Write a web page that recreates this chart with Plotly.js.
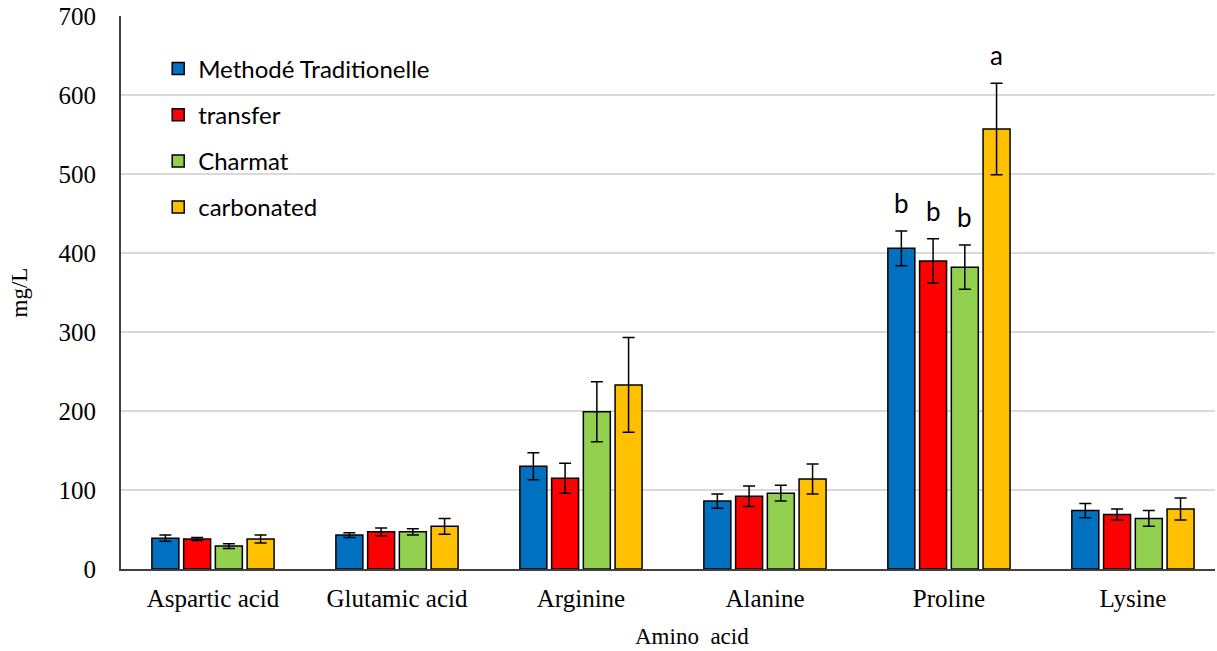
<!DOCTYPE html>
<html>
<head>
<meta charset="utf-8">
<script src="https://cdn.plot.ly/plotly-3.0.1.min.js"></script>
<style>html,body{margin:0;padding:0;background:#fff;}#chart{width:1217px;height:651px;}</style>
</head>
<body>
<div id="chart"></div>
<script>
const categories = ['Aspartic acid', 'Glutamic acid', 'Arginine', 'Alanine', 'Proline', 'Lysine'];
const seriesNames = ['Methodé Traditionelle', 'transfer', 'Charmat', 'carbonated'];
const seriesColors = ['#0070C0', '#FF0000', '#92D050', '#FFC000'];

const methodeTraditionelle = [39, 43, 130, 86, 406, 74];
const transfer = [38, 47, 115, 92, 390, 69];
const charmat = [29, 47, 199, 96, 382, 64];
const carbonated = [38, 54, 233, 114, 557, 76];

const errMethode = [4, 3, 17, 9, 22, 9];
const errTransfer = [2, 5, 19, 13, 28, 7];
const errCharmat = [3, 4, 38, 10, 28, 10];
const errCarbonated = [5, 10, 60, 19, 58, 14];

const letterCategory = 'Proline';
const letters = ['b', 'b', 'b', 'a'];

const values = [methodeTraditionelle, transfer, charmat, carbonated];
const errors = [errMethode, errTransfer, errCharmat, errCarbonated];

const serif = '"Liberation Serif", "Times New Roman", serif';
const sans = 'Lato, "Open Sans", sans-serif';

const bargap = 0.31;
const traces = values.map((v, i) => ({
  type: 'bar',
  name: seriesNames[i],
  x: categories,
  y: v,
  legendgroup: 'g' + i,
  marker: {color: seriesColors[i], line: {color: '#000', width: 1.5}},
  error_y: {type: 'data', array: errors[i], visible: true, color: '#000', thickness: 1.5, width: 6}
}));

const ci = categories.indexOf(letterCategory);
const slot = (1 - bargap) / values.length;
const annotations = letters.map((t, i) => ({
  x: ci + (i - (values.length - 1) / 2) * slot,
  y: values[i][ci] + errors[i][ci],
  xref: 'x', yref: 'y',
  text: t, showarrow: false,
  yanchor: 'middle', yshift: 28,
  font: {family: sans, size: 26, color: '#000'}
}));
annotations.push({
  xref: 'paper', yref: 'paper', x: 0.5, y: 0, yanchor: 'middle', yshift: -67, xshift: 24,
  borderpad: 0,
  text: 'Amino&nbsp;&nbsp;acid', showarrow: false,
  font: {family: serif, size: 23, color: '#000'}
});

const layout = {
  width: 1217, height: 651,
  margin: {l: 121, r: 2, t: 16, b: 82},
  paper_bgcolor: '#fff', plot_bgcolor: '#fff',
  barmode: 'group', bargap: bargap, bargroupgap: 0.15,
  showlegend: true,
  legend: {
    x: 0.034, y: 0.945, xanchor: 'left', yanchor: 'top',
    bgcolor: 'rgba(0,0,0,0)', tracegroupgap: 12, traceorder: 'grouped',
    font: {family: sans, size: 24, color: '#000'},
    itemwidth: 30
  },
  xaxis: {
    type: 'category',
    range: [-0.5, 5.446],
    showline: true, linecolor: '#404040', linewidth: 2,
    ticks: '', showgrid: false, ticklabelstandoff: 6,
    tickfont: {family: serif, size: 25, color: '#000'}
  },
  yaxis: {
    range: [0, 700], dtick: 100,
    showline: true, linecolor: '#404040', linewidth: 2,
    showgrid: true, gridcolor: '#d9d9d9', gridwidth: 1.5,
    zeroline: false, ticks: '', ticklabelstandoff: 18,
    tickfont: {family: serif, size: 25, color: '#000'},
    title: {text: 'mg/L', standoff: 24, font: {family: serif, size: 23, color: '#000'}}
  },
  annotations: annotations
};

Plotly.newPlot('chart', traces, layout, {displayModeBar: false, staticPlot: true});
</script>
</body>
</html>
